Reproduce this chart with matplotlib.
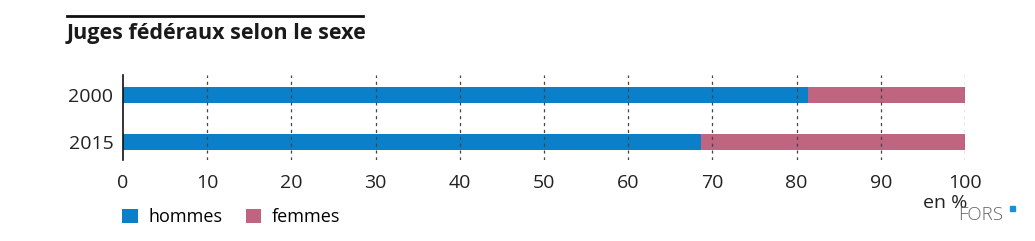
import matplotlib.pyplot as plt
from matplotlib.lines import Line2D

plt.rcParams['font.family'] = ['Open Sans', 'DejaVu Sans']

years = ['2000', '2015']
hommes = [81.4, 68.6]
femmes = [18.6, 31.4]

blue = '#0b80c8'
pink = '#bf6481'

fig = plt.figure(figsize=(10.35, 2.41), dpi=100)
ax = fig.add_axes([123 / 1035, 1 - 160 / 241, 842 / 1035, 85 / 241])

ypos = list(range(len(years)))
ax.barh(ypos, hommes, height=0.34, color=blue, label='hommes', zorder=2)
ax.barh(ypos, femmes, left=hommes, height=0.34, color=pink, label='femmes', zorder=2)

ax.set_xlim(0, 100)
ax.set_ylim(1.38, -0.43)
ax.set_yticks(ypos)
ax.set_yticklabels(years)
ax.set_xticks(range(0, 101, 10))
ax.tick_params(length=0, labelsize=14, colors='#222222')
ax.tick_params(axis='x', pad=10)
ax.tick_params(axis='y', pad=7)

for x in range(10, 101, 10):
    ax.axvline(x, color='#444444', lw=0.9, ls=(0, (2.5, 3)), zorder=3)

for s in ['top', 'right', 'bottom']:
    ax.spines[s].set_visible(False)
ax.spines['left'].set_color('#111111')
ax.spines['left'].set_linewidth(1.2)

# title and rule above it
fig.add_artist(Line2D([67 / 1035, 363 / 1035], [1 - 16 / 241] * 2, color='#111111', lw=2))
fig.text(67 / 1035, 1 - 34 / 241, 'Juges fédéraux selon le sexe', fontsize=15.5,
         fontweight='bold', va='center', ha='left', color='#1a1a1a')

fig.text(945 / 1035, 1 - 203 / 241, 'en %', fontsize=14, ha='center', va='center', color='#222222')
fig.text(981 / 1035, 1 - 215 / 241, 'FORS', fontsize=13.5, ha='center', va='center',
         color='#666666', fontweight='light')
fig.add_artist(plt.Rectangle((1010 / 1035, 1 - 211 / 241), 5 / 1035, 5 / 241,
                             color='#1a8fd6', transform=fig.transFigure))

fig.legend(loc='center left', bbox_to_anchor=(106 / 1035, 1 - 217 / 241), ncol=2,
           frameon=False, fontsize=13, handlelength=0.85, handleheight=0.85,
           handletextpad=0.6, columnspacing=1.3)

fig.savefig('out.png', dpi=100)
